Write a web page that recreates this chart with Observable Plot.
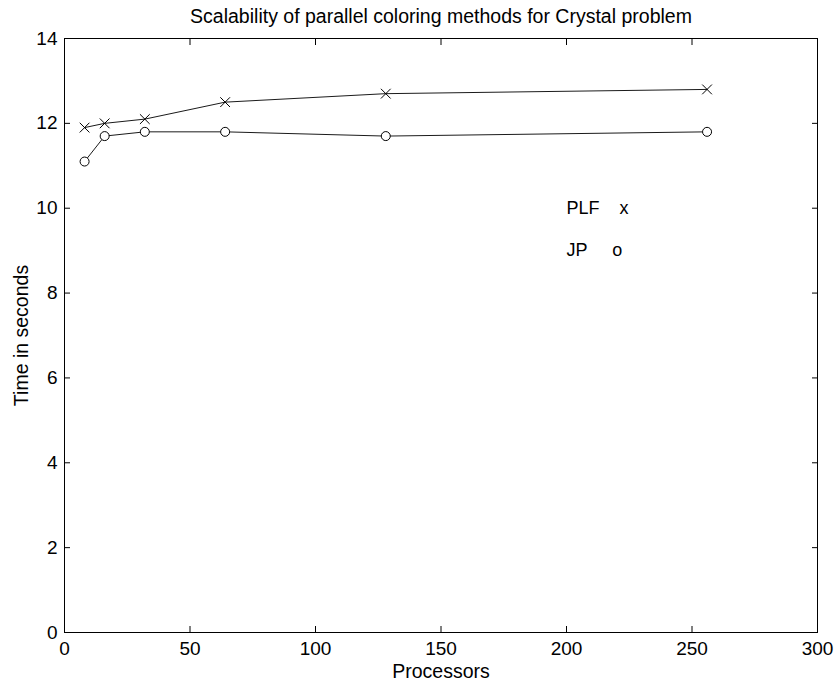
<!DOCTYPE html>
<html>
<head>
<meta charset="utf-8">
<script src="https://cdn.jsdelivr.net/npm/d3@7"></script>
<script src="https://cdn.jsdelivr.net/npm/@observablehq/plot@0.6"></script>
<style>
  body { margin: 0; background: #fff; }
  svg { font-family: "Liberation Sans", Arial, sans-serif; }
</style>
</head>
<body>
<div id="chart"></div>
<script>
const processors = [8, 16, 32, 64, 128, 256];
const plfTime = [11.9, 12.0, 12.1, 12.5, 12.7, 12.8];
const jpTime = [11.1, 11.7, 11.8, 11.8, 11.7, 11.8];
const xTicks = [0, 50, 100, 150, 200, 250, 300];
const yTicks = [0, 2, 4, 6, 8, 10, 12, 14];
const legendLabels = [
  {x: 200, y: 10, text: "PLF    x"},
  {x: 200, y: 9, text: "JP     o"}
];
const title = "Scalability of parallel coloring methods for Crystal problem";

const plf = processors.map((p, i) => ({p, t: plfTime[i]}));
const jp = processors.map((p, i) => ({p, t: jpTime[i]}));

const chart = Plot.plot({
  width: 837,
  height: 687,
  marginLeft: 64,
  marginRight: 20,
  marginTop: 38,
  marginBottom: 55,
  style: {fontSize: "18px", fontFamily: "'Liberation Sans', Arial, sans-serif", background: "#fff"},
  x: {domain: [0, 300], ticks: xTicks},
  y: {domain: [0, 14], ticks: yTicks},
  marks: [
    Plot.frame({stroke: "black", strokeWidth: 1}),
    Plot.axisX({anchor: "bottom", ticks: xTicks, tickSize: -6, tickPadding: 15, label: null, fontSize: 19}),
    Plot.axisX({anchor: "top", ticks: xTicks, tickSize: -6, tickFormat: () => "", label: null}),
    Plot.axisY({anchor: "left", ticks: yTicks, tickSize: -6, tickPadding: 13, label: null, fontSize: 19}),
    Plot.axisY({anchor: "right", ticks: yTicks, tickSize: -6, tickFormat: () => "", label: null}),
    Plot.line(plf, {x: "p", y: "t", stroke: "black", strokeWidth: 0.9}),
    Plot.line(jp, {x: "p", y: "t", stroke: "black", strokeWidth: 0.9}),
    Plot.dot(plf, {x: "p", y: "t", symbol: "times", r: 4.5, stroke: "black", strokeWidth: 1}),
    Plot.dot(jp, {x: "p", y: "t", symbol: "circle", r: 4.5, stroke: "black", fill: "white", strokeWidth: 1}),
    Plot.text(legendLabels, {x: "x", y: "y", text: "text", textAnchor: "start", fontSize: 18, fill: "black"}),
    Plot.text([title], {frameAnchor: "top", dy: -29, text: d => d, fontSize: 19.5, fill: "black"}),
    Plot.text(["Processors"], {frameAnchor: "bottom", dy: 45, text: d => d, fontSize: 19.5, fill: "black"}),
    Plot.text(["Time in seconds"], {frameAnchor: "left", textAnchor: "middle", dx: -43, rotate: -90, text: d => d, fontSize: 19.5, fill: "black"})
  ]
});
document.getElementById("chart").appendChild(chart);
</script>
</body>
</html>
